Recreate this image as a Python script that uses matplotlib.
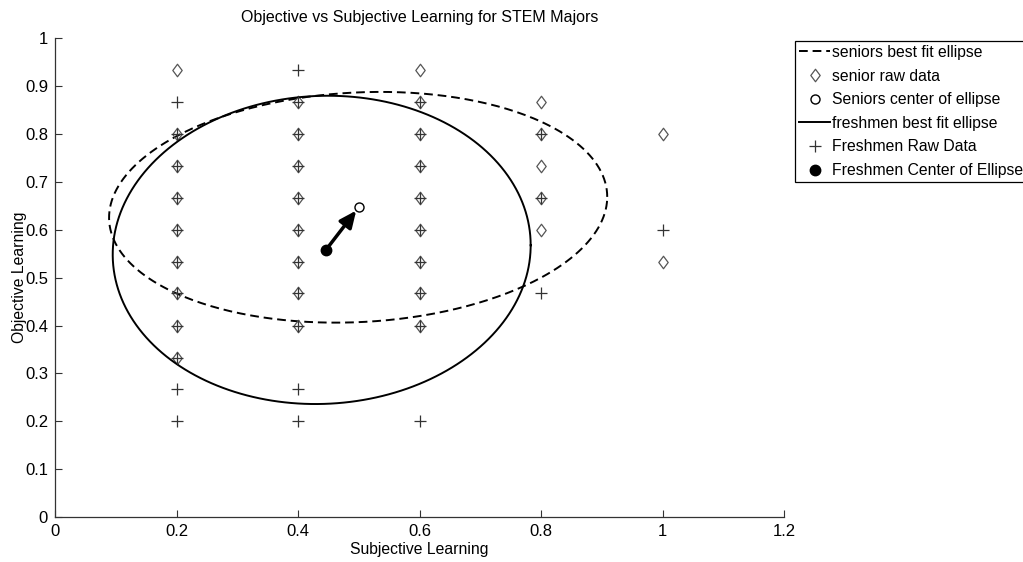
import numpy as np
import matplotlib
matplotlib.use("Agg")
import matplotlib.pyplot as plt
from matplotlib.path import Path

plt.rcParams['font.family'] = ['Liberation Sans', 'DejaVu Sans']

# ---------------- data ----------------
senior_x = [0.2]*9 + [0.4]*8 + [0.6]*9 + [0.8]*5 + [1.0]*2
senior_y = [0.933, 0.8, 0.733, 0.667, 0.6, 0.533, 0.467, 0.4, 0.333,
            0.867, 0.8, 0.733, 0.667, 0.6, 0.533, 0.467, 0.4,
            0.933, 0.867, 0.8, 0.733, 0.667, 0.6, 0.533, 0.467, 0.4,
            0.867, 0.8, 0.733, 0.667, 0.6,
            0.8, 0.533]

fresh_x = [0.2]*11 + [0.4]*11 + [0.6]*9 + [0.8]*3 + [1.0]*1
fresh_y = [0.867, 0.8, 0.733, 0.667, 0.6, 0.533, 0.467, 0.4, 0.333, 0.267, 0.2,
           0.933, 0.867, 0.8, 0.733, 0.667, 0.6, 0.533, 0.467, 0.4, 0.267, 0.2,
           0.867, 0.8, 0.733, 0.667, 0.6, 0.533, 0.467, 0.4, 0.2,
           0.8, 0.667, 0.467,
           0.6]

senior_center = (0.500, 0.647)
fresh_center = (0.446, 0.558)

# best-fit ellipse parameters: centre, half extents in x/y, correlation
senior_ell_center = (0.499, 0.647)
senior_ext = (0.410, 0.241)
senior_rho = 0.09
fresh_ell_center = (0.439, 0.558)
fresh_ext = (0.344, 0.322)
fresh_rho = 0.03

x_ticks = [0, 0.2, 0.4, 0.6, 0.8, 1, 1.2]
x_ticklabels = ['0', '0.2', '0.4', '0.6', '0.8', '1', '1.2']
y_ticks = [0, 0.1, 0.2, 0.3, 0.4, 0.5, 0.6, 0.7, 0.8, 0.9, 1]
y_ticklabels = ['0', '0.1', '0.2', '0.3', '0.4', '0.5', '0.6', '0.7', '0.8', '0.9', '1']


def ellipse_pts(center, ext, rho, n=400):
    t = np.linspace(0, 2*np.pi, n)
    x = center[0] + ext[0]*np.cos(t)
    y = center[1] + ext[1]*(rho*np.cos(t) + np.sqrt(1 - rho**2)*np.sin(t))
    return x, y


diamond = Path([(0, 1), (0.75, 0), (0, -1), (-0.75, 0), (0, 1)],
               [Path.MOVETO, Path.LINETO, Path.LINETO, Path.LINETO, Path.CLOSEPOLY])

fig = plt.figure(figsize=(10.23, 5.62), dpi=100)
ax = fig.add_axes([55/1023, 45/562, 729/1023, 478.7/562])

sx, sy = ellipse_pts(senior_ell_center, senior_ext, senior_rho)
ax.plot(sx, sy, color='black', lw=1.4, ls=(0, (4.5, 2.5)), label='seniors best fit ellipse')
ax.plot(senior_x, senior_y, ls='none', marker=diamond, ms=9, mfc='none',
        mec='#555555', mew=0.9, label='senior raw data')
ax.plot([senior_center[0]], [senior_center[1]], ls='none', marker='o', ms=6.5,
        mfc='white', mec='black', mew=1.0, label='Seniors center of ellipse', zorder=5)
fx, fy = ellipse_pts(fresh_ell_center, fresh_ext, fresh_rho)
ax.plot(fx, fy, color='black', lw=1.4, label='freshmen best fit ellipse')
ax.plot(fresh_x, fresh_y, ls='none', marker='+', ms=9, mec='#333333', mew=0.9,
        label='Freshmen Raw Data')
ax.plot([fresh_center[0]], [fresh_center[1]], ls='none', marker='o', ms=7.5,
        mfc='black', mec='black', label='Freshmen Center of Ellipse', zorder=5)

ax.annotate('', xy=senior_center, xytext=fresh_center,
            arrowprops=dict(arrowstyle='-|>,head_length=1.0,head_width=0.45',
                            color='black', lw=2.5, shrinkA=4, shrinkB=3))

ax.set_xlim(0, 1.2)
ax.set_ylim(0, 1)
ax.set_xticks(x_ticks)
ax.set_xticklabels(x_ticklabels)
ax.set_yticks(y_ticks)
ax.set_yticklabels(y_ticklabels)
for s in ['top', 'right']:
    ax.spines[s].set_visible(False)
for s in ['left', 'bottom']:
    ax.spines[s].set_color('#333333')
    ax.spines[s].set_linewidth(0.9)
ax.tick_params(direction='in', length=5, width=0.8, color='#333333',
               labelsize=12, pad=5)

ax.set_title('Objective vs Subjective Learning for STEM Majors', fontsize=11.5, pad=12)
ax.set_xlabel('Subjective Learning', fontsize=11.3, labelpad=2)
ax.set_ylabel('Objective Learning', fontsize=11.3, labelpad=0)
ax.yaxis.set_label_coords(-0.038, 0.5)

leg = fig.legend(loc='upper left', bbox_to_anchor=(795/1023, 1 - 41/562),
                 fontsize=11.3, frameon=True, fancybox=False, framealpha=1,
                 edgecolor='black', handlelength=2.0, handletextpad=0.1,
                 labelspacing=0.55, borderaxespad=0, borderpad=0.25)
leg.get_frame().set_linewidth(0.9)

fig.savefig('out.png', dpi=100)
